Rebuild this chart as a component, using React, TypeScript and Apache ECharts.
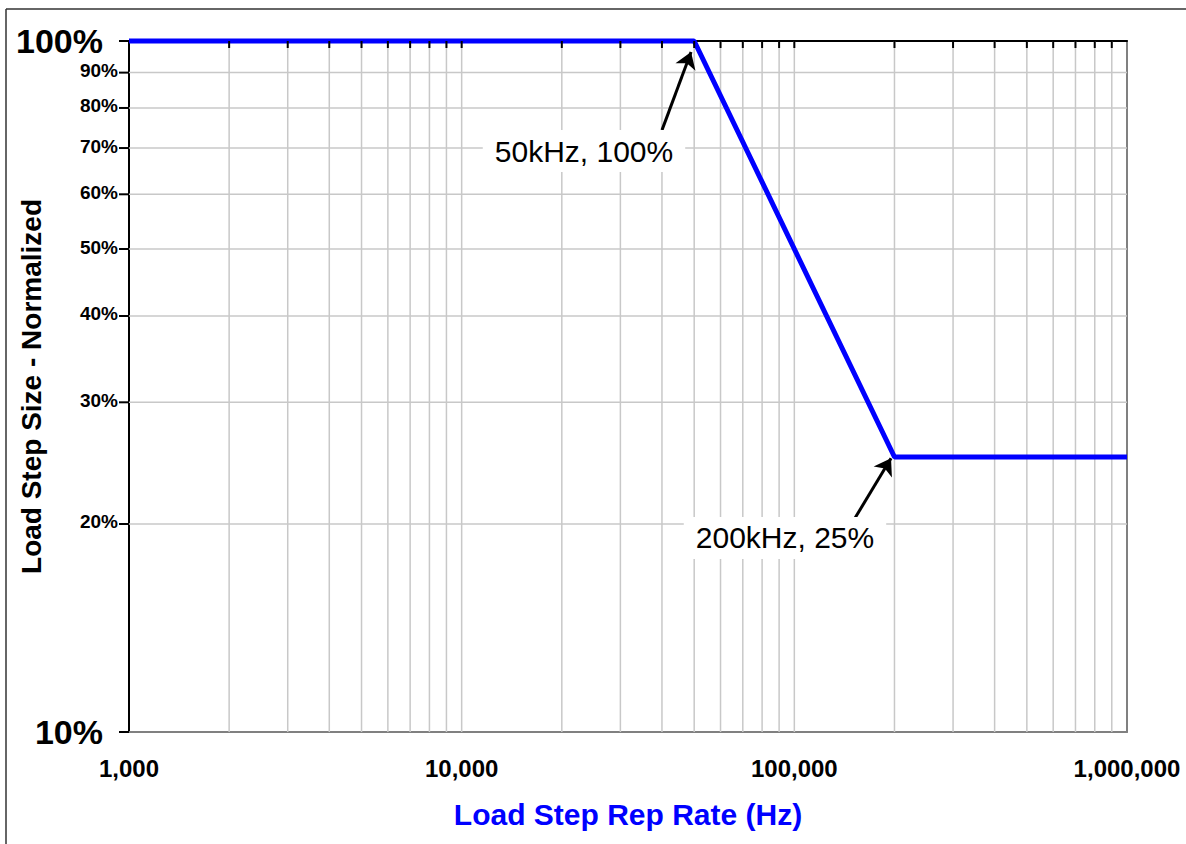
import React, { useEffect, useRef } from "react";
import * as echarts from "echarts";

// ---- data ----
const X_MIN = 1000;
const X_MAX = 1000000;
const Y_MIN = 10;
const Y_MAX = 100;

const curveX = [1000, 50000, 200000, 1000000];
const curveY = [100, 100, 25, 25];

const xGrid = [
  2000, 3000, 4000, 5000, 6000, 7000, 8000, 9000,
  10000, 20000, 30000, 40000, 50000, 60000, 70000, 80000, 90000,
  100000, 200000, 300000, 400000, 500000, 600000, 700000, 800000, 900000,
];
const yGrid = [20, 30, 40, 50, 60, 70, 80, 90];
const yMinorLabels = [20, 30, 40, 50, 60, 70, 80, 90];

const annotX = [23320, 93740];
const annotY = [69.3, 19.09];
const annotText = ["50kHz, 100%", "200kHz, 25%"];
const arrowFromX = [40010, 152200];
const arrowFromY = [74.3, 20.4];
const arrowToX = [48920, 195300];
const arrowToY = [96.4, 24.9];

const FONT = '"Liberation Sans", Arial, Helvetica, sans-serif';

export default function App() {
  const ref = useRef<HTMLDivElement>(null);

  useEffect(() => {
    document.body.style.margin = "0";
    const chart = echarts.init(ref.current!, null, { renderer: "svg" });

    const gridData = [
      ...xGrid.map((v) => [v, Y_MIN, 0]),
      ...yGrid.map((v) => [X_MIN, v, 1]),
    ];

    const option: any = {
      animation: false,
      backgroundColor: "#ffffff",
      textStyle: { fontFamily: FONT },
      grid: {
        left: 129,
        top: 41,
        width: 998,
        height: 691,
        containLabel: false,
        outerBoundsMode: "none",
      },
      xAxis: [
        {
          type: "log",
          logBase: 10,
          min: X_MIN,
          max: X_MAX,
          position: "bottom",
          name: "Load Step Rep Rate (Hz)",
          nameLocation: "middle",
          nameGap: 67,
          nameMoveOverlap: false,
          nameTextStyle: { color: "#0000ff", fontSize: 30, fontWeight: "bold", fontFamily: FONT },
          axisLine: { show: true, onZero: false, lineStyle: { color: "#808080", width: 2 } },
          axisTick: { show: false },
          minorTick: { show: false },
          splitLine: { show: false },
          axisLabel: {
            show: true,
            margin: 24,
            fontSize: 24,
            fontWeight: "bold",
            color: "#000",
            fontFamily: FONT,
            showMinLabel: true,
            showMaxLabel: true,
            hideOverlap: false,
            formatter: (v: number) => Math.round(v).toLocaleString("en-US"),
          },
        },
        {
          type: "log",
          logBase: 10,
          min: X_MIN,
          max: X_MAX,
          position: "top",
          axisLine: { show: true, onZero: false, lineStyle: { color: "#000", width: 2 } },
          axisTick: { show: false },
          axisLabel: { show: false },
          splitLine: { show: false },
        },
      ],
      yAxis: [
        {
          type: "log",
          logBase: 10,
          min: Y_MIN,
          max: Y_MAX,
          position: "left",
          name: "Load Step Size - Normalized",
          nameLocation: "middle",
          nameGap: 84,
          nameRotate: 90,
          nameMoveOverlap: false,
          nameTextStyle: { color: "#000", fontSize: 28, fontWeight: "bold", fontFamily: FONT },
          axisLine: { show: true, onZero: false, lineStyle: { color: "#000", width: 2 } },
          axisTick: { show: true, length: 10, lineStyle: { color: "#000", width: 2 } },
          splitLine: { show: false },
          axisLabel: {
            margin: 26,
            fontSize: 34,
            fontWeight: "bold",
            color: "#000",
            fontFamily: FONT,
            showMinLabel: true,
            showMaxLabel: true,
            formatter: (v: number) => Math.round(v) + "%",
          },
        },
        {
          type: "log",
          logBase: 10,
          min: Y_MIN,
          max: Y_MAX,
          position: "right",
          axisLine: { show: true, onZero: false, lineStyle: { color: "#808080", width: 2 } },
          axisTick: { show: false },
          axisLabel: { show: false },
          splitLine: { show: false },
        },
      ],
      graphic: [
        {
          type: "line",
          silent: true,
          shape: { x1: 6, y1: 9, x2: 1186, y2: 9 },
          style: { stroke: "#333", lineWidth: 1.5 },
        },
        {
          type: "line",
          silent: true,
          shape: { x1: 6, y1: 9, x2: 6, y2: 844 },
          style: { stroke: "#333", lineWidth: 1.5 },
        },
      ],
      series: [
        {
          type: "custom",
          name: "grid",
          coordinateSystem: "cartesian2d",
          xAxisIndex: 0,
          yAxisIndex: 0,
          silent: true,
          z: 1,
          dimensions: ["x", "y", "k"],
          encode: { x: 0, y: 1 },
          data: gridData,
          renderItem: (params: any, api: any) => {
            const kind = api.value(2);
            let p1, p2;
            if (kind === 0) {
              p1 = api.coord([api.value(0), Y_MIN]);
              p2 = api.coord([api.value(0), Y_MAX]);
            } else {
              p1 = api.coord([X_MIN, api.value(1)]);
              p2 = api.coord([X_MAX, api.value(1)]);
            }
            return {
              type: "line",
              shape: { x1: p1[0], y1: p1[1], x2: p2[0], y2: p2[1] },
              style: { stroke: "#c8c8c8", lineWidth: 1.5 },
            };
          },
        },
        {
          type: "custom",
          name: "topTicks",
          coordinateSystem: "cartesian2d",
          xAxisIndex: 0,
          yAxisIndex: 0,
          silent: true,
          z: 5,
          encode: { x: 0, y: 1 },
          data: xGrid.map((v) => [v, Y_MAX]),
          renderItem: (params: any, api: any) => {
            const p = api.coord([api.value(0), Y_MAX]);
            return {
              type: "line",
              shape: { x1: p[0], y1: p[1], x2: p[0], y2: p[1] + 7 },
              style: { stroke: "#000", lineWidth: 2 },
            };
          },
        },
        {
          type: "custom",
          name: "yMinor",
          coordinateSystem: "cartesian2d",
          xAxisIndex: 0,
          yAxisIndex: 0,
          silent: true,
          z: 5,
          encode: { x: 0, y: 1 },
          data: yMinorLabels.map((v) => [X_MIN, v]),
          renderItem: (params: any, api: any) => {
            const v = api.value(1);
            const p = api.coord([X_MIN, v]);
            return {
              type: "group",
              children: [
                {
                  type: "line",
                  shape: { x1: p[0] - 10, y1: p[1], x2: p[0], y2: p[1] },
                  style: { stroke: "#000", lineWidth: 2 },
                },
                {
                  type: "text",
                  x: p[0] - 11,
                  y: p[1] - 2,
                  style: {
                    text: Math.round(v) + "%",
                    align: "right",
                    verticalAlign: "middle",
                    font: 'bold 19px "Liberation Sans", Arial, sans-serif',
                    fill: "#000",
                  },
                },
              ],
            };
          },
        },
        {
          type: "line",
          name: "Load Step",
          xAxisIndex: 0,
          yAxisIndex: 0,
          data: curveX.map((x, i) => [x, curveY[i]]),
          symbol: "none",
          clip: false,
          z: 3,
          lineStyle: { color: "#0000ff", width: 5 },
          markLine: {
            silent: true,
            animation: false,
            symbol: ["none", "arrow"],
            symbolSize: 16,
            label: { show: false },
            lineStyle: { color: "#000", width: 3, type: "solid" },
            emphasis: { disabled: true },
            data: arrowFromX.map((fx, i) => [
              { coord: [fx, arrowFromY[i]] },
              { coord: [arrowToX[i], arrowToY[i]] },
            ]),
          },
        },
        {
          type: "custom",
          name: "annotations",
          coordinateSystem: "cartesian2d",
          xAxisIndex: 0,
          yAxisIndex: 0,
          silent: true,
          z: 6,
          dimensions: ["x", "y", "i"],
          encode: { x: 0, y: 1 },
          data: annotX.map((x, i) => [x, annotY[i], i]),
          renderItem: (params: any, api: any) => {
            const p = api.coord([api.value(0), api.value(1)]);
            return {
              type: "text",
              x: p[0],
              y: p[1],
              style: {
                text: annotText[api.value(2)],
                align: "center",
                verticalAlign: "middle",
                font: '30px "Liberation Sans", Arial, sans-serif',
                fill: "#000",
                backgroundColor: "#fff",
                padding: [6, 12],
              },
            };
          },
        },
      ],
    };

    chart.setOption(option);
    return () => chart.dispose();
  }, []);

  return (
    <div
      ref={ref}
      style={{ position: "absolute", left: 0, top: 0, width: 1186, height: 844 }}
    />
  );
}
